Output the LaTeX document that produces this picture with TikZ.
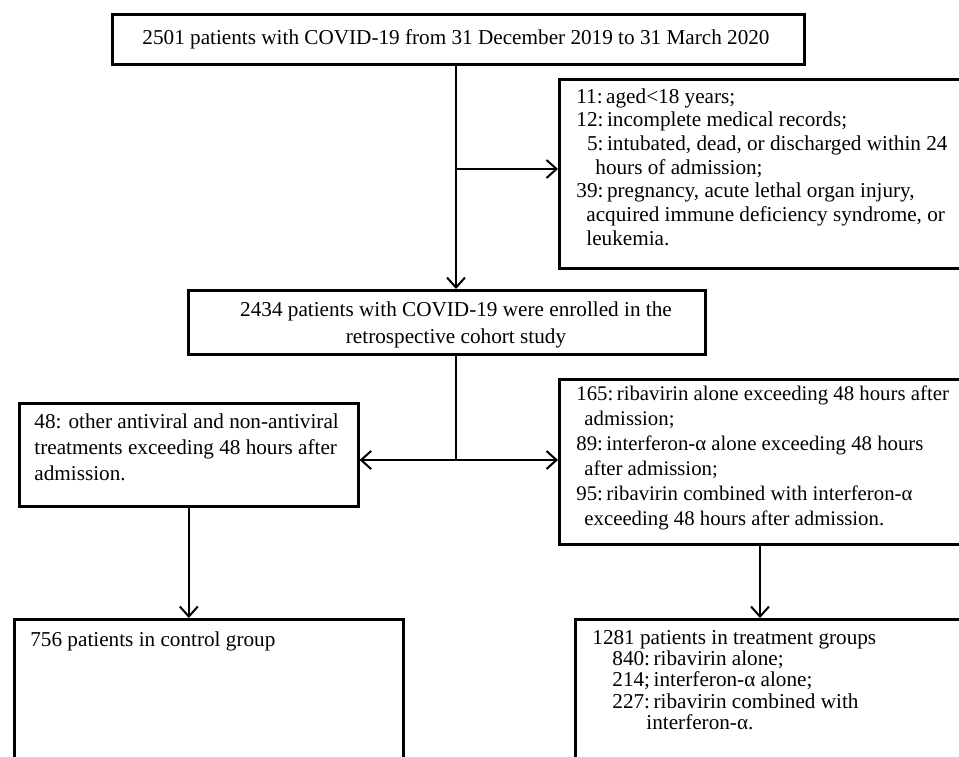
\documentclass[tikz,border=0pt]{standalone}
\usepackage{fontspec}
\setmainfont{Liberation Serif}
\usetikzlibrary{arrows.meta,calc}
\begin{document}
\begin{tikzpicture}[x=0.5pt,y=-0.5pt,
  box/.style={draw,line width=1.3pt,inner sep=0pt,anchor=north west},
  txt/.style={inner sep=0pt,align=left,font=\fontsize{10.6}{11.85}\selectfont},
  conn/.style={line width=1pt},
  arr/.style={conn,-{Straight Barb[length=5pt,width=9pt,line width=1pt]}}]
\useasboundingbox (0,0) rectangle (959,756);
\clip (0,0) rectangle (959,756);
% boxes
\node[box,minimum width=346pt,minimum height=25pt] (b1) at (111,13) {};
\node[box,minimum width=221pt,minimum height=94.5pt] (b2) at (558,78) {};
\node[box,minimum width=258.5pt,minimum height=32pt] (b3) at (187,289) {};
\node[box,minimum width=169.5pt,minimum height=51.5pt] (b4) at (18,402) {};
\node[box,minimum width=221pt,minimum height=82.5pt] (b5) at (558,378) {};
\node[box,minimum width=194.5pt,minimum height=91pt] (b6) at (13,618) {};
\node[box,minimum width=213pt,minimum height=91pt] (b7) at (574,618) {};
% texts
\node[txt,anchor=base] (t1) at (456,44) {2501 patients with COVID-19 from 31 December 2019 to 31 March 2020};
\node[txt,anchor=north west] (t2) at (576,88) {11:\,aged<18 years;\\12:\,incomplete medical records;\\\hphantom{1}5:\,intubated, dead, or discharged within 24\\\hspace*{9.5pt}hours of admission;\\39:\,pregnancy, acute lethal organ injury,\\\hspace*{5pt}acquired immune deficiency syndrome, or\\\hspace*{5pt}leukemia.};
\node[txt,align=center,font=\fontsize{10.6}{13.5}\selectfont] (t3) at (456,325) {2434 patients with COVID-19 were enrolled in the\\retrospective cohort study};
\node[txt,anchor=north west,font=\fontsize{10.6}{13}\selectfont] (t4) at (34,413) {48: other antiviral and non-antiviral\\treatments exceeding 48 hours after\\admission.};
\node[txt,anchor=north west,font=\fontsize{10.4}{12.5}\selectfont] (t5) at (576,385) {165:\,ribavirin alone exceeding 48 hours after\\\hspace*{4pt}admission;\\89:\,interferon-α alone exceeding 48 hours\\\hspace*{4pt}after admission;\\95:\,ribavirin combined with interferon-α\\\hspace*{4pt}exceeding 48 hours after admission.};
\node[txt,anchor=base west] (t6) at (30,646) {756 patients in control group};
\node[txt,anchor=north west,font=\fontsize{10.6}{10.6}\selectfont] (t7) at (592,630) {1281 patients in treatment groups\\\hspace*{10pt}840:\,ribavirin alone;\\\hspace*{10pt}214;\,interferon-α alone;\\\hspace*{10pt}227:\,ribavirin combined with\\\hspace*{27pt}interferon-α.};
% junction coordinates
\coordinate (j1) at (456,169);
\coordinate (j2) at (456,460);
\coordinate (c7) at (760,618);
% connectors
\draw[arr] (j1 |- b1.south) -- (j1 |- b3.north);
\draw[arr] (j1) -- (j1 -| b2.west);
\draw[conn] (j2 |- b3.south) -- (j2);
\draw[arr] (j2) -- (j2 -| b4.east);
\draw[arr] (j2) -- (j2 -| b5.west);
\draw[arr] (b4.south) -- (b4.south |- b6.north);
\draw[arr] (c7 |- b5.south) -- (c7);
\end{tikzpicture}
\end{document}
